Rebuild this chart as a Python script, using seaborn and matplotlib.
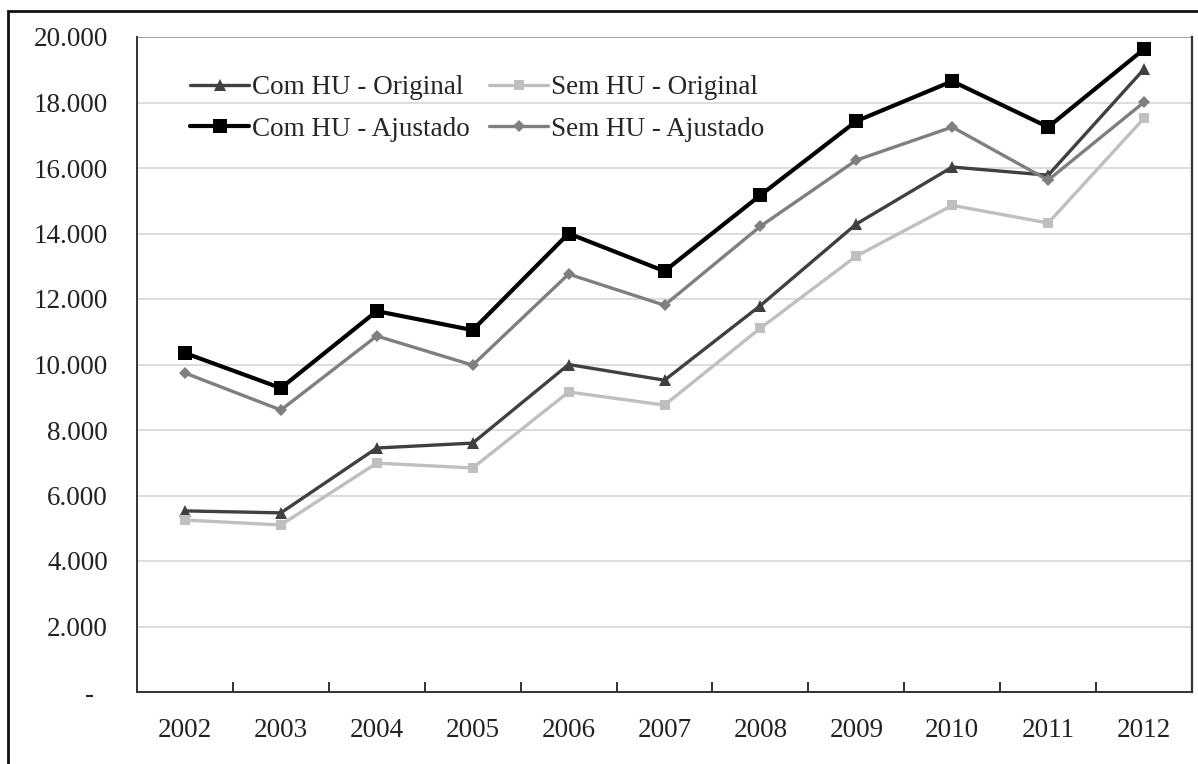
import matplotlib
matplotlib.use("Agg")
import matplotlib.pyplot as plt
import seaborn as sns
import pandas as pd
from matplotlib.patches import Rectangle
from matplotlib.ticker import FuncFormatter, FixedLocator

years = ["2002", "2003", "2004", "2005", "2006", "2007", "2008", "2009", "2010", "2011", "2012"]
com_hu_original = [5530, 5470, 7450, 7600, 10000, 9520, 11800, 14290, 16030, 15780, 19020]
sem_hu_original = [5250, 5100, 6990, 6840, 9160, 8760, 11110, 13310, 14860, 14320, 17520]
com_hu_ajustado = [10350, 9280, 11630, 11050, 14000, 12850, 15170, 17430, 18650, 17250, 19630]
sem_hu_ajustado = [9740, 8610, 10870, 9980, 12760, 11810, 14220, 16240, 17250, 15630, 18010]

series_names = ["Com HU - Original", "Sem HU - Original", "Com HU - Ajustado", "Sem HU - Ajustado"]
series_values = [com_hu_original, sem_hu_original, com_hu_ajustado, sem_hu_ajustado]

sns.set_theme(style="white")
plt.rcParams["font.family"] = ["Liberation Serif", "DejaVu Serif"]

FS = 19.5

fig = plt.figure(figsize=(11.98, 7.64), dpi=100)
ax = fig.add_axes([137/1198, 1-692/764, (1192-137)/1198, (692-37)/764])

styles = {
    "Com HU - Original": dict(color="#404040", marker="^", markersize=9, linewidth=2.4),
    "Sem HU - Original": dict(color="#bfbfbf", marker="s", markersize=7.5, linewidth=2.4),
    "Com HU - Ajustado": dict(color="#000000", marker="s", markersize=10, linewidth=3.0),
    "Sem HU - Ajustado": dict(color="#7f7f7f", marker="D", markersize=6.5, linewidth=2.4),
}

xs = list(range(len(years)))
handles = {}
for name, vals in zip(series_names, series_values):
    df = pd.DataFrame({"x": xs, "y": vals})
    st = styles[name]
    sns.lineplot(data=df, x="x", y="y", ax=ax, color=st["color"], linewidth=st["linewidth"],
                 marker=st["marker"], markersize=st["markersize"], markeredgewidth=0,
                 label=name, legend=False)
    handles[name] = ax.lines[-1]

ax.set_xlim(-0.5, len(years) - 0.5)
ax.set_ylim(0, 20000)
ax.set_xlabel("")
ax.set_ylabel("")

ax.xaxis.set_major_locator(FixedLocator(xs))
ax.set_xticklabels(years)
ax.xaxis.set_minor_locator(FixedLocator([i + 0.5 for i in range(len(years) - 1)]))
ax.tick_params(axis="x", which="major", length=0, pad=19, labelsize=FS, colors="#222222")
ax.tick_params(axis="x", which="minor", direction="in", length=7, width=1.3, color="#222222", bottom=True)

yt = list(range(0, 20001, 2000))
ax.yaxis.set_major_locator(FixedLocator(yt))
def yfmt(v, pos):
    if v == 0:
        return "-  "
    return f"{int(v):,}".replace(",", ".")
ax.yaxis.set_major_formatter(FuncFormatter(yfmt))
ax.tick_params(axis="y", length=0, pad=21, labelsize=FS, colors="#222222")

for y in yt[1:]:
    ax.axhline(y, color="#dadada" if y < 20000 else "#9a9a9a", linewidth=1.3, zorder=0)

ax.spines["top"].set_visible(False)
for s in ["left", "bottom"]:
    ax.spines[s].set_color("#333333")
    ax.spines[s].set_linewidth(1.4)
ax.spines["right"].set_color("#333333")
ax.spines["right"].set_linewidth(1.6)

order = ["Com HU - Original", "Com HU - Ajustado", "Sem HU - Original", "Sem HU - Ajustado"]
ax.legend([handles[n] for n in order], order, ncol=2, frameon=False, loc="upper left",
          bbox_to_anchor=(0.05, 0.942), fontsize=FS, handlelength=2.2, handletextpad=0.1,
          columnspacing=0.7, labelspacing=0.62, borderaxespad=0, borderpad=0)

fig.patches.append(Rectangle((8/1198, -0.05), 1.2, 1 - 11/764 + 0.05, transform=fig.transFigure,
                             fill=False, edgecolor="#111111", linewidth=2.0))

fig.savefig("out.png", dpi=100)
